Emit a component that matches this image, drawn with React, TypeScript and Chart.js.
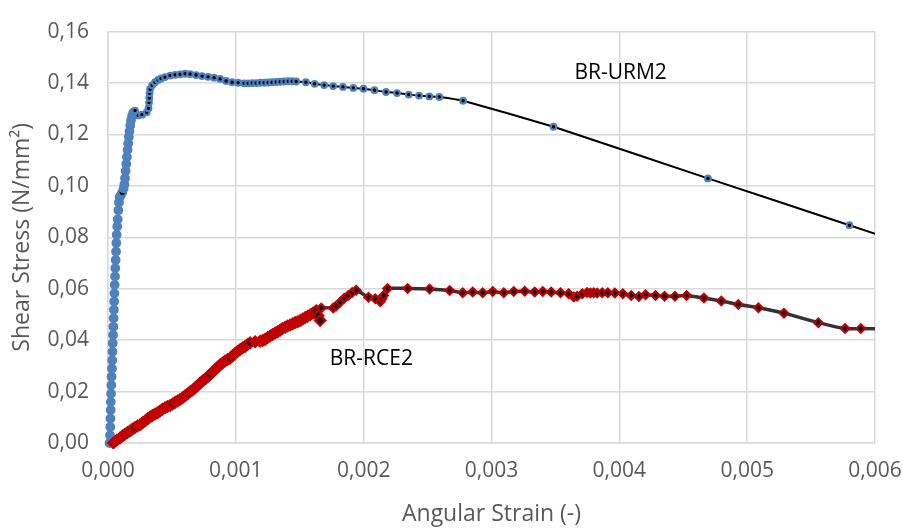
import React, { useEffect, useRef } from 'react';
import { Chart, registerables } from 'chart.js';

Chart.register(...registerables);

// ---- Axis ticks ----
const xTickValues = [0, 0.001, 0.002, 0.003, 0.004, 0.005, 0.006];
const xTickLabels = ['0,000', '0,001', '0,002', '0,003', '0,004', '0,005', '0,006'];
const yTickValues = [0, 0.02, 0.04, 0.06, 0.08, 0.1, 0.12, 0.14, 0.16];
const yTickLabels = ['0,00', '0,02', '0,04', '0,06', '0,08', '0,10', '0,12', '0,14', '0,16'];

const xTitle = 'Angular Strain (-)';
const yTitle = 'Shear Stress (N/mm²)';

// ---- Series labels (text annotations) ----
const seriesNames = ['BR-URM2', 'BR-RCE2'];
const labelStrain = [0.00401, 0.00206];
const labelStress = [0.1440, 0.0326];

// ---- BR-URM2 ----
const urm2Strain = [
  0.000012, 0.000016, 0.000018, 0.000019, 0.000021, 0.000022, 0.000024, 0.000026,
  0.000028, 0.000031, 0.000033, 0.000035, 0.000037, 0.000040, 0.000042, 0.000044,
  0.000046, 0.000048, 0.000050, 0.000052, 0.000055, 0.000057, 0.000060, 0.000063,
  0.000065, 0.000068, 0.000072, 0.000076, 0.000081, 0.000086, 0.000091, 0.000100,
  0.000112, 0.000122, 0.000128, 0.000133, 0.000138, 0.000143, 0.000148, 0.000153,
  0.000158, 0.000163, 0.000168, 0.000174, 0.000180, 0.000188, 0.000198, 0.000211,
  0.000237, 0.000266, 0.000303, 0.000317, 0.000321, 0.000323, 0.000325, 0.000329,
  0.000345, 0.000368, 0.000392, 0.000415, 0.000446, 0.000486, 0.000525, 0.000564,
  0.000603, 0.000642, 0.000689, 0.000736, 0.000783, 0.000830, 0.000877, 0.000924,
  0.000971, 0.001018, 0.001065, 0.001096, 0.001128, 0.001159, 0.001190, 0.001222,
  0.001253, 0.001284, 0.001316, 0.001347, 0.001378, 0.001410, 0.001441, 0.001472,
  0.001548, 0.001616, 0.001691, 0.001762, 0.001838, 0.001919, 0.001999, 0.002085,
  0.002175, 0.002261, 0.002352, 0.002433, 0.002514, 0.002592, 0.002778, 0.003485,
  0.004693, 0.005800, 0.006900,
];
const urm2Stress = [
  0.0000, 0.0030, 0.0062, 0.0095, 0.0128, 0.0160, 0.0192, 0.0225,
  0.0258, 0.0290, 0.0322, 0.0355, 0.0388, 0.0420, 0.0452, 0.0485,
  0.0518, 0.0550, 0.0582, 0.0615, 0.0648, 0.0680, 0.0712, 0.0745,
  0.0778, 0.0810, 0.0842, 0.0870, 0.0905, 0.0935, 0.0956, 0.0964,
  0.0975, 0.0990, 0.1005, 0.1030, 0.1058, 0.1085, 0.1112, 0.1140,
  0.1165, 0.1190, 0.1212, 0.1235, 0.1255, 0.1272, 0.1285, 0.1293,
  0.1274, 0.1277, 0.1286, 0.1302, 0.1324, 0.1342, 0.1360, 0.1376,
  0.1391, 0.1403, 0.1412, 0.1418, 0.1423, 0.1429, 0.1432, 0.1434,
  0.1436, 0.1435, 0.1431, 0.1427, 0.1424, 0.1421, 0.1416, 0.1408,
  0.1403, 0.1401, 0.1399, 0.1399, 0.1400, 0.1400, 0.1401, 0.1401,
  0.1402, 0.1403, 0.1404, 0.1405, 0.1406, 0.1407, 0.1407, 0.1406,
  0.1403, 0.1397, 0.1392, 0.1388, 0.1385, 0.1381, 0.1378, 0.1372,
  0.1365, 0.1361, 0.1355, 0.1351, 0.1348, 0.1346, 0.1331, 0.1230,
  0.1029, 0.0847, 0.0665,
];
// indices of the dense rising band whose marker centres remain visible (black)
const urm2VisibleCentres = [32, 47, 48, 50];
const urm2DenseCount = 47;

// ---- BR-RCE2 ----
const rce2Strain = [
  0.000042, 0.000070, 0.000094, 0.000115, 0.000133, 0.000152, 0.000172, 0.000192,
  0.000211, 0.000231, 0.000251, 0.000270, 0.000290, 0.000310, 0.000329, 0.000348,
  0.000368, 0.000388, 0.000407, 0.000426, 0.000446, 0.000466, 0.000486, 0.000505,
  0.000525, 0.000544, 0.000564, 0.000584, 0.000603, 0.000622, 0.000642, 0.000662,
  0.000681, 0.000700, 0.000720, 0.000740, 0.000760, 0.000780, 0.000799, 0.000818,
  0.000838, 0.000858, 0.000877, 0.000896, 0.000916, 0.000936, 0.000955, 0.000975,
  0.000995, 0.001014, 0.001034, 0.001054, 0.001073, 0.001092, 0.001112, 0.001151,
  0.001190, 0.001210, 0.001229, 0.001249, 0.001269, 0.001288, 0.001308, 0.001327,
  0.001347, 0.001366, 0.001386, 0.001405, 0.001425, 0.001445, 0.001464, 0.001484,
  0.001504, 0.001523, 0.001543, 0.001562, 0.001582, 0.001605, 0.001629, 0.001644,
  0.001660, 0.001668, 0.001762, 0.001785, 0.001817, 0.001848, 0.001879, 0.001910,
  0.001942, 0.002038, 0.002091, 0.002130, 0.002143, 0.002156, 0.002187, 0.002344,
  0.002516, 0.002673, 0.002775, 0.002853, 0.002931, 0.003010, 0.003096, 0.003174,
  0.003260, 0.003338, 0.003401, 0.003467, 0.003540, 0.003604, 0.003644, 0.003670,
  0.003710, 0.003748, 0.003774, 0.003800, 0.003827, 0.003866, 0.003910, 0.003965,
  0.004027, 0.004093, 0.004153, 0.004205, 0.004283, 0.004354, 0.004435, 0.004526,
  0.004662, 0.004798, 0.004931, 0.005088, 0.005288, 0.005557, 0.005766, 0.005889,
  0.006200,
];
const rce2Stress = [
  0.0000, 0.0012, 0.0019, 0.0028, 0.0034, 0.0041, 0.0047, 0.0054,
  0.0060, 0.0066, 0.0071, 0.0079, 0.0086, 0.0094, 0.0101, 0.0107,
  0.0113, 0.0118, 0.0124, 0.0131, 0.0137, 0.0142, 0.0146, 0.0152,
  0.0158, 0.0163, 0.0169, 0.0176, 0.0184, 0.0191, 0.0199, 0.0206,
  0.0214, 0.0223, 0.0233, 0.0241, 0.0249, 0.0258, 0.0266, 0.0276,
  0.0285, 0.0295, 0.0304, 0.0311, 0.0319, 0.0325, 0.0330, 0.0339,
  0.0349, 0.0356, 0.0364, 0.0370, 0.0375, 0.0383, 0.0390, 0.0394,
  0.0396, 0.0399, 0.0403, 0.0410, 0.0416, 0.0422, 0.0428, 0.0433,
  0.0439, 0.0445, 0.0450, 0.0455, 0.0459, 0.0464, 0.0469, 0.0472,
  0.0476, 0.0482, 0.0488, 0.0493, 0.0499, 0.0506, 0.0514, 0.0495,
  0.0476, 0.0525, 0.0525, 0.0533, 0.0548, 0.0563, 0.0574, 0.0585,
  0.0594, 0.0567, 0.0561, 0.0549, 0.0561, 0.0574, 0.0601, 0.0601,
  0.0599, 0.0593, 0.0584, 0.0587, 0.0584, 0.0589, 0.0584, 0.0589,
  0.0590, 0.0587, 0.0589, 0.0587, 0.0584, 0.0580, 0.0568, 0.0571,
  0.0580, 0.0585, 0.0583, 0.0584, 0.0583, 0.0584, 0.0584, 0.0583,
  0.0580, 0.0574, 0.0570, 0.0577, 0.0574, 0.0571, 0.0571, 0.0574,
  0.0564, 0.0552, 0.0539, 0.0526, 0.0505, 0.0468, 0.0445, 0.0445,
  0.0443,
];
// indices of the dense band whose marker centres remain visible (black)
const rce2VisibleCentres = [8, 23, 38, 46, 54, 57, 61, 66, 70, 74, 78, 79, 80];
const rce2DenseCount = 81;

const toPoints = (xs: number[], ys: number[]) => xs.map((x, i) => ({ x, y: ys[i] }));

const FONT = '"Open Sans", "DejaVu Sans", sans-serif';
const GRID = '#d9d9d9';
const TEXT = '#595959';
const BLUE = '#4F81BD';
const RED = '#C00000';

const centreColours = (n: number, dense: number, visible: number[], fill: string) =>
  Array.from({ length: n }, (_, i) => (i < dense && !visible.includes(i) ? fill : '#000000'));

const labelPlugin = {
  id: 'seriesLabels',
  afterDatasetsDraw(chart: any) {
    const { ctx, scales } = chart;
    ctx.save();
    ctx.font = `21px ${FONT}`;
    ctx.fillStyle = '#000000';
    ctx.textAlign = 'center';
    ctx.textBaseline = 'middle';
    seriesNames.forEach((name, i) => {
      ctx.fillText(name, scales.x.getPixelForValue(labelStrain[i]), scales.y.getPixelForValue(labelStress[i]));
    });
    ctx.restore();
  },
};

export default function App() {
  const canvasRef = useRef<HTMLCanvasElement | null>(null);

  useEffect(() => {
    const canvas = canvasRef.current;
    if (!canvas) return;
    const chart = new Chart(canvas, {
      type: 'scatter',
      data: {
        datasets: [
          {
            label: seriesNames[1],
            data: toPoints(rce2Strain, rce2Stress),
            showLine: true,
            borderColor: '#333333',
            borderWidth: 3.5,
            tension: 0.15,
            pointStyle: 'rectRot',
            pointRadius: rce2Strain.map((_, i) => (i < rce2DenseCount ? 5.2 : 4.2)),
            pointBorderWidth: 2.2,
            pointBorderColor: RED,
            pointBackgroundColor: centreColours(rce2Strain.length, rce2DenseCount, rce2VisibleCentres, RED),
            clip: { left: 6, top: 6, bottom: 6, right: 0 } as any,
          },
          {
            label: seriesNames[0],
            data: toPoints(urm2Strain, urm2Stress),
            showLine: true,
            borderColor: '#000000',
            borderWidth: 2,
            tension: 0.1,
            pointStyle: 'circle',
            pointRadius: urm2Strain.map((_, i) => (i < urm2DenseCount ? 3.8 : 2.8)),
            pointBorderWidth: 2.2,
            pointBorderColor: BLUE,
            pointBackgroundColor: centreColours(urm2Strain.length, urm2DenseCount, urm2VisibleCentres, BLUE),
            clip: { left: 6, top: 6, bottom: 6, right: 0 } as any,
          },
        ],
      },
      options: {
        animation: false,
        responsive: false,
        devicePixelRatio: 1,
        layout: { padding: { top: 17, right: 28, left: 0, bottom: 0 } },
        plugins: {
          legend: { display: false },
          tooltip: { enabled: false },
        },
        scales: {
          x: {
            type: 'linear',
            min: 0,
            max: 0.006,
            afterBuildTicks: (scale: any) => {
              scale.ticks = xTickValues.map((v) => ({ value: v }));
            },
            afterFit: (scale: any) => {
              scale.height = 87;
              scale.paddingLeft = 0;
              scale.paddingRight = 0;
            },
            ticks: {
              callback: (_v: any, i: number) => xTickLabels[i],
              color: TEXT,
              font: { family: FONT, size: 21 },
              padding: 15,
              maxRotation: 0,
            },
            grid: { color: GRID, lineWidth: 1.5, drawTicks: false },
            border: { color: GRID, width: 1.5 },
            title: {
              display: true,
              text: xTitle,
              color: TEXT,
              font: { family: FONT, size: 23 },
              padding: { top: 0, bottom: 2 },
            },
          },
          y: {
            type: 'linear',
            min: 0,
            max: 0.16,
            afterBuildTicks: (scale: any) => {
              scale.ticks = yTickValues.map((v) => ({ value: v }));
            },
            afterFit: (scale: any) => {
              scale.width = 108;
            },
            ticks: {
              callback: (_v: any, i: number) => yTickLabels[i],
              color: TEXT,
              font: { family: FONT, size: 21 },
              padding: 19,
            },
            grid: { color: GRID, lineWidth: 1.5, drawTicks: false },
            border: { color: GRID, width: 1.5 },
            title: {
              display: true,
              text: yTitle,
              color: TEXT,
              font: { family: FONT, size: 23 },
              padding: { top: 9, bottom: 0 },
            },
          },
        },
      },
      plugins: [labelPlugin],
    });
    return () => chart.destroy();
  }, []);

  return (
    <div style={{ position: 'absolute', left: 0, top: 0, width: 903, height: 530, background: '#ffffff' }}>
      <canvas ref={canvasRef} width={903} height={530} />
    </div>
  );
}
